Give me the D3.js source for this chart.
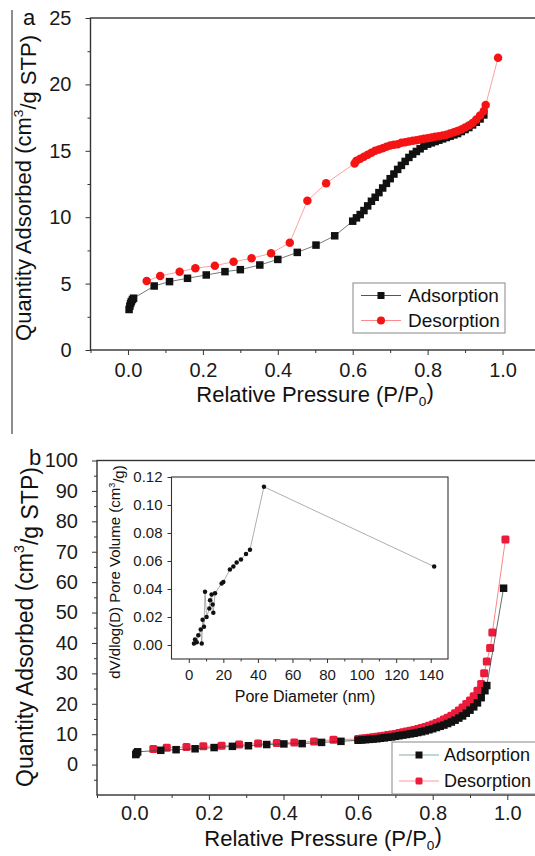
<!DOCTYPE html>
<html lang="en">
<head>
<meta charset="UTF-8">
<title>Nitrogen isotherms</title>
<script src="https://cdnjs.cloudflare.com/ajax/libs/d3/7.8.5/d3.min.js"></script>
<style>
  body { margin: 0; background: #fff; }
  svg { display: block; font-family: "Liberation Sans", Arial, sans-serif; }
  .tick text { fill: #1a1a1a; }
  .tick line, .domain { stroke: #333; }
</style>
</head>
<body>
<svg id="chart" width="535" height="856"></svg>
<script>
// ---- panel a : isotherm ----
const aAdsP = [0.003, 0.005, 0.007, 0.009, 0.012, 0.015, 0.07, 0.111, 0.159, 0.209, 0.259, 0.30, 0.352, 0.40, 0.452, 0.502, 0.552,
  0.60, 0.61, 0.62, 0.63, 0.64, 0.65, 0.66, 0.67, 0.68, 0.69, 0.70, 0.71, 0.72, 0.73, 0.74, 0.75, 0.76, 0.77, 0.78, 0.79,
  0.80, 0.81, 0.82, 0.83, 0.84, 0.85, 0.86, 0.87, 0.88, 0.89, 0.90, 0.91, 0.92, 0.93, 0.94, 0.95];
const aAdsQ = [3.05, 3.3, 3.5, 3.65, 3.8, 3.9, 4.82, 5.15, 5.4, 5.65, 5.9, 6.05, 6.4, 6.82, 7.35, 7.9, 8.6,
  9.7, 9.95, 10.2, 10.5, 10.85, 11.2, 11.5, 11.85, 12.2, 12.55, 12.9, 13.25, 13.6, 13.9, 14.2, 14.5, 14.75, 14.95, 15.15, 15.35,
  15.5, 15.6, 15.7, 15.8, 15.9, 16.0, 16.1, 16.2, 16.3, 16.45, 16.6, 16.75, 16.95, 17.15, 17.4, 17.7];
const aDesP = [0.988, 0.955, 0.95, 0.94, 0.93, 0.92, 0.91, 0.90, 0.89, 0.88, 0.87, 0.86, 0.85, 0.84, 0.83, 0.82, 0.81, 0.80,
  0.79, 0.78, 0.77, 0.76, 0.75, 0.74, 0.73, 0.72, 0.71, 0.70, 0.69, 0.68, 0.67, 0.66, 0.65, 0.64, 0.63, 0.62, 0.61, 0.605,
  0.529, 0.479, 0.432, 0.382, 0.33, 0.282, 0.232, 0.18, 0.138, 0.086, 0.05];
const aDesQ = [22.0, 18.45, 18.0, 17.65, 17.35, 17.1, 16.9, 16.75, 16.6, 16.5, 16.4, 16.3, 16.2, 16.15, 16.1, 16.05, 16.0, 15.95,
  15.9, 15.85, 15.8, 15.75, 15.7, 15.65, 15.6, 15.5, 15.45, 15.4, 15.3, 15.2, 15.1, 15.0, 14.85, 14.7, 14.55, 14.4, 14.25, 14.05,
  12.55, 11.24, 8.08, 7.28, 6.9, 6.65, 6.35, 6.15, 5.9, 5.57, 5.2];

// ---- panel b : isotherm ----
const bAdsP = [0.004, 0.006, 0.009, 0.071, 0.112, 0.163, 0.214, 0.263, 0.306, 0.355, 0.401, 0.45, 0.502, 0.554,
  0.60, 0.61, 0.62, 0.63, 0.64, 0.65, 0.66, 0.67, 0.68, 0.69, 0.70, 0.71, 0.72, 0.73, 0.74, 0.75, 0.76, 0.77, 0.78, 0.79,
  0.80, 0.81, 0.82, 0.83, 0.84, 0.85, 0.86, 0.87, 0.88, 0.89, 0.90, 0.91, 0.92, 0.93, 0.94, 0.945, 0.99];
const bAdsQ = [3.3, 3.8, 4.2, 4.7, 4.9, 5.2, 5.6, 6.0, 6.2, 6.6, 6.8, 6.9, 7.3, 7.65,
  8.0, 8.1, 8.2, 8.3, 8.4, 8.5, 8.65, 8.8, 8.95, 9.1, 9.3, 9.5, 9.7, 9.9, 10.1, 10.3, 10.55, 10.8, 11.1, 11.45,
  11.8, 12.2, 12.6, 13.0, 13.5, 14.0, 14.6, 15.3, 16.0, 16.9, 17.9, 19.0, 20.3, 22.0, 24.3, 26.0, 58.0];
const bDesP = [0.995, 0.96, 0.954, 0.945, 0.938, 0.93, 0.92, 0.91, 0.90, 0.89, 0.88, 0.87, 0.86, 0.85, 0.84, 0.83, 0.82, 0.81,
  0.80, 0.79, 0.78, 0.77, 0.76, 0.75, 0.74, 0.73, 0.72, 0.71, 0.70, 0.69, 0.68, 0.67, 0.66, 0.65, 0.64, 0.63, 0.62, 0.61, 0.60,
  0.534, 0.482, 0.429, 0.382, 0.332, 0.281, 0.234, 0.185, 0.14, 0.087, 0.051];
const bDesQ = [74.0, 43.4, 38.3, 33.9, 30.0, 26.5, 24.3, 22.5, 21.1, 19.9, 18.8, 17.8, 16.9, 16.1, 15.4, 14.8, 14.2, 13.7,
  13.2, 12.8, 12.4, 12.05, 11.7, 11.4, 11.1, 10.85, 10.6, 10.35, 10.1, 9.9, 9.7, 9.5, 9.3, 9.15, 9.0, 8.85, 8.7, 8.55, 8.4,
  8.2, 7.6, 7.3, 7.1, 6.9, 6.6, 6.2, 6.0, 5.8, 5.5, 5.1];

// ---- inset : pore size distribution ----
const poreD = [3.0, 3.6, 4.6, 5.5, 6.9, 7.5, 8.0, 8.8, 9.4, 10.3, 11.9, 12.3, 13.2, 13.8, 14.2, 15.2, 19, 20, 23.8, 25.8,
  27.7, 30.2, 33.1, 35.4, 43.5, 142];
const poreV = [0.001, 0.004, 0.002, 0.007, 0.011, 0.001, 0.018, 0.013, 0.038, 0.020, 0.026, 0.032, 0.036, 0.029, 0.023,
  0.037, 0.044, 0.045, 0.054, 0.056, 0.059, 0.061, 0.065, 0.068, 0.113, 0.056];

// ticks
const pTicks = [0, 0.2, 0.4, 0.6, 0.8, 1.0];
const pMinor = [-0.1, 0.1, 0.3, 0.5, 0.7, 0.9];
const aQTicks = [0, 5, 10, 15, 20, 25];
const aQMinor = [2.5, 7.5, 12.5, 17.5, 22.5];
const bQTicks = [0, 10, 20, 30, 40, 50, 60, 70, 80, 90, 100];
const bQMinor = [-5, 5, 15, 25, 35, 45, 55, 65, 75, 85, 95];
const dTicks = [0, 20, 40, 60, 80, 100, 120, 140];
const dMinor = [10, 30, 50, 70, 90, 110, 130];
const vTicks = [0, 0.02, 0.04, 0.06, 0.08, 0.10, 0.12];

const svg = d3.select("#chart");
svg.append("rect").attr("width", 535).attr("height", 856).attr("fill", "#fff");

// stray scan border at the left of panel a
svg.append("line").attr("x1", 12).attr("x2", 12).attr("y1", 10).attr("y2", 434)
  .attr("stroke", "#444").attr("stroke-width", 1.2);

function zip(xs, ys) { return xs.map((v, i) => [v, ys[i]]); }

function axes(g, x, y, o) {
  const [x0, x1] = x.range(), [y0, y1] = y.range();
  g.append("g").attr("transform", `translate(0,${y0})`)
    .call(d3.axisBottom(x).tickValues(o.xt).tickSize(o.ts).tickPadding(o.xpad).tickFormat(o.xf).tickSizeOuter(0))
    .call(s => s.select(".domain").remove())
    .call(s => s.selectAll("text").attr("font-size", o.fs).attr("font-family", null));
  g.append("g").attr("transform", `translate(0,${y0})`)
    .call(d3.axisBottom(x).tickValues(o.xm).tickSize(o.ts * 0.6).tickFormat(""))
    .call(s => s.select(".domain").remove());
  g.append("g").attr("transform", `translate(${x0},0)`)
    .call(d3.axisLeft(y).tickValues(o.yt).tickSize(o.ts).tickPadding(o.ypad).tickFormat(o.yf).tickSizeOuter(0))
    .call(s => s.select(".domain").remove())
    .call(s => s.selectAll("text").attr("font-size", o.fs).attr("font-family", null));
  if (o.ym) {
    g.append("g").attr("transform", `translate(${x0},0)`)
      .call(d3.axisLeft(y).tickValues(o.ym).tickSize(o.ts * 0.6).tickFormat(""))
      .call(s => s.select(".domain").remove());
  }
  g.append("rect").attr("x", x0).attr("y", y1).attr("width", x1 - x0).attr("height", y0 - y1)
    .attr("fill", "none").attr("stroke", "#333").attr("stroke-width", o.fw);
}

function series(g, x, y, pts, o) {
  const sorted = pts.slice().sort((a, b) => a[0] - b[0]);
  g.append("path").datum(sorted)
    .attr("d", d3.line().x(d => x(d[0])).y(d => y(d[1])))
    .attr("fill", "none").attr("stroke", o.line).attr("stroke-width", o.lw || 0.8);
  const m = g.append("g").attr("fill", o.color);
  if (o.shape === "circle") {
    m.selectAll("circle").data(pts).join("circle")
      .attr("cx", d => x(d[0])).attr("cy", d => y(d[1])).attr("r", o.size / 2);
  } else {
    m.selectAll("rect").data(pts).join("rect")
      .attr("x", d => x(d[0]) - o.size / 2).attr("y", d => y(d[1]) - o.size / 2)
      .attr("width", o.size).attr("height", o.size).attr("rx", o.rx || 0);
  }
}

function legend(g, x0, y0, w, h, items, tx, mx, fs) {
  g.append("rect").attr("x", x0).attr("y", y0).attr("width", w).attr("height", h)
    .attr("fill", "#fff").attr("stroke", "#888").attr("stroke-width", 1);
  items.forEach((it, i) => {
    const cy = y0 + h * (i + 0.5) / items.length;
    g.append("line").attr("x1", mx - 20).attr("x2", mx + 20).attr("y1", cy).attr("y2", cy)
      .attr("stroke", it.line).attr("stroke-width", 1);
    if (it.shape === "circle") {
      g.append("circle").attr("cx", mx).attr("cy", cy).attr("r", it.size / 2).attr("fill", it.color);
    } else {
      g.append("rect").attr("x", mx - it.size / 2).attr("y", cy - it.size / 2)
        .attr("width", it.size).attr("height", it.size).attr("rx", it.rx || 0).attr("fill", it.color);
    }
    g.append("text").attr("x", tx).attr("y", cy).attr("dy", "0.35em")
      .attr("font-size", fs).attr("fill", "#111").text(it.label);
  });
}

function xTitle(g, cx, y, fs) {
  const t = g.append("text").attr("x", cx).attr("y", y).attr("text-anchor", "middle")
    .attr("font-size", fs).attr("fill", "#111");
  t.append("tspan").text("Relative Pressure (P/P");
  t.append("tspan").attr("font-size", fs * 0.62).attr("dy", "0.3em").text("0");
  t.append("tspan").attr("dy", "-0.3em").attr("font-size", fs).text(")");
}

function yTitle(g, x, cy, fs) {
  const t = g.append("text").attr("transform", `translate(${x},${cy}) rotate(-90)`)
    .attr("text-anchor", "middle").attr("font-size", fs).attr("fill", "#111");
  t.append("tspan").text("Quantity Adsorbed (cm");
  t.append("tspan").attr("font-size", fs * 0.62).attr("dy", "-0.6em").text("3");
  t.append("tspan").attr("dy", "0.6em").text("/g STP)");
}

// ---------- panel a ----------
const ga = svg.append("g");
const xa = d3.scaleLinear().domain([-0.1, 1.1]).range([90.5, 540]);
const ya = d3.scaleLinear().domain([0, 25]).range([350, 18]);
axes(ga, xa, ya, { xt: pTicks, xm: pMinor, yt: aQTicks, ym: aQMinor, ts: 5, xpad: 8, ypad: 14,
  xf: d3.format(".1f"), yf: d3.format("d"), fs: 20, fw: 1.4 });
series(ga, xa, ya, zip(aAdsP, aAdsQ), { color: "#111", line: "#555", shape: "rect", size: 7.5 });
series(ga, xa, ya, zip(aDesP, aDesQ), { color: "#f41414", line: "#f88", shape: "circle", size: 8.5 });
legend(ga, 353, 283, 152, 50, [
  { label: "Adsorption", color: "#111", line: "#555", shape: "rect", size: 7 },
  { label: "Desorption", color: "#f41414", line: "#f88", shape: "circle", size: 8 }
], 408, 381, 19);
xTitle(ga, 315, 402, 22);
yTitle(ga, 31, 188, 22);
ga.append("text").attr("x", 23).attr("y", 25).attr("font-size", 22).attr("fill", "#111").text("a");

// ---------- panel b ----------
const gb = svg.append("g");
const xb = d3.scaleLinear().domain([-0.1, 1.1]).range([97, 544.6]);
const yb = d3.scaleLinear().domain([-10, 100]).range([795, 460.5]);
axes(gb, xb, yb, { xt: pTicks, xm: pMinor, yt: bQTicks, ym: bQMinor, ts: 5, xpad: 6, ypad: 14,
  xf: d3.format(".1f"), yf: d3.format("d"), fs: 20, fw: 1.4 });
series(gb, xb, yb, zip(bDesP, bDesQ), { color: "#ec1b3b", line: "#f66", shape: "rect", size: 8, rx: 1.5 });
series(gb, xb, yb, zip(bAdsP, bAdsQ), { color: "#111", line: "#444", shape: "rect", size: 7.5 });
legend(gb, 392, 742, 160, 52, [
  { label: "Adsorption", color: "#111", line: "#8aa", shape: "rect", size: 7 },
  { label: "Desorption", color: "#ec1b3b", line: "#f99", shape: "rect", size: 7, rx: 1.5 }
], 444, 419, 18);
xTitle(gb, 323, 846, 22);
yTitle(gb, 33, 627, 23);
gb.append("text").attr("x", 29).attr("y", 465).attr("font-size", 22).attr("fill", "#111").text("b");

// ---------- inset ----------
const gi = svg.append("g");
const xi = d3.scaleLinear().domain([-10, 150]).range([171.5, 448]);
const yi = d3.scaleLinear().domain([-0.01, 0.12]).range([659, 477]);
gi.append("rect").attr("x", 171.5).attr("y", 477).attr("width", 276.5).attr("height", 182).attr("fill", "#fff");
axes(gi, xi, yi, { xt: dTicks, xm: dMinor, yt: vTicks, ym: null, ts: 4, xpad: 6, ypad: 5,
  xf: d3.format("d"), yf: d3.format(".2f"), fs: 15, fw: 1.1 });
series(gi, xi, yi, zip(poreD, poreV), { color: "#111", line: "#999", shape: "circle", size: 4.5, lw: 0.8 });
gi.append("text").attr("x", 305).attr("y", 702).attr("text-anchor", "middle")
  .attr("font-size", 16).attr("fill", "#111").text("Pore Diameter (nm)");
const ti = gi.append("text").attr("transform", "translate(120,572) rotate(-90)")
  .attr("text-anchor", "middle").attr("font-size", 15).attr("fill", "#111");
ti.append("tspan").text("dV/dlog(D) Pore Volume (cm");
ti.append("tspan").attr("font-size", 9).attr("dy", "-0.6em").text("3");
ti.append("tspan").attr("dy", "0.6em").text("/g)");
</script>
</body>
</html>
